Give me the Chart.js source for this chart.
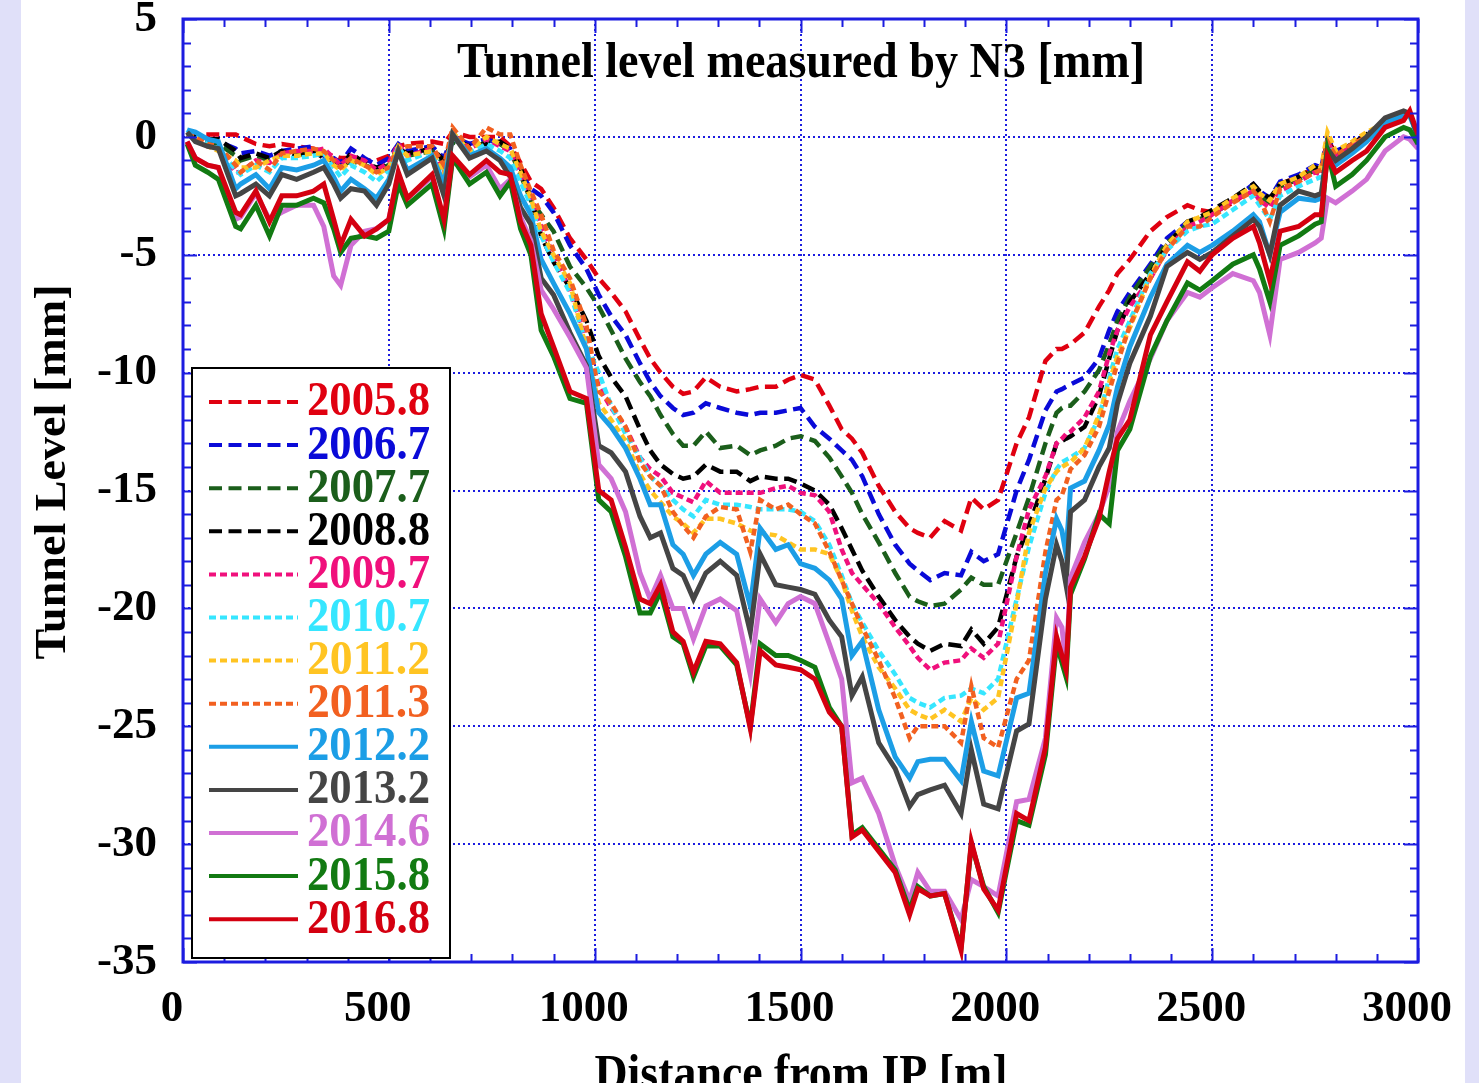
<!DOCTYPE html>
<html><head><meta charset="utf-8">
<script src="https://cdn.jsdelivr.net/npm/chart.js@4.4.1/dist/chart.umd.min.js"></script>
<style>
html,body{margin:0;padding:0;background:#fff;}
canvas{display:block;}
</style></head><body>
<canvas id="c" width="1479" height="1083"></canvas>
<script>
// ---------------- DATA ----------------
const distance = [10,30,60,86,128,140,177,210,240,276,
 317,342,366,383,408,441,470,500,523,545,
 605,634,655,696,737,770,795,820,845,870,
 900,940,980,1010,1040,1075,1110,1135,1160,1190,
 1215,1240,1270,1305,1345,1378,1402,1440,1470,1500,
 1535,1570,1600,1625,1650,1690,1730,1765,1785,1815,
 1850,1890,1915,1945,1980,2025,2055,2095,2122,2135,
 2145,2156,2190,2225,2250,2270,2300,2350,2390,2440,
 2470,2500,2550,2600,2615,2640,2665,2710,2750,2765,
 2780,2800,2840,2875,2920,2965,2980,3000];

const s2005_8 = [0.2,0.1,0.1,0.1,0.1,0.0,-0.3,-0.4,-0.3,-0.4,
 -0.5,-0.7,-0.8,-0.9,-0.9,-1.0,-1.0,-0.8,-0.4,-0.3,
 -0.2,-0.3,0.2,0.0,0.0,0.0,-0.4,-1.1,-1.9,-2.2,
 -3.0,-4.3,-5.2,-6.0,-6.6,-7.4,-8.6,-9.4,-10.0,-10.6,
 -10.9,-10.8,-10.2,-10.6,-10.8,-10.7,-10.6,-10.6,-10.3,-10.1,
 -10.3,-11.4,-12.4,-12.8,-13.4,-14.8,-15.9,-16.6,-16.8,-17.0,
 -16.3,-16.7,-15.3,-15.8,-15.4,-13.0,-11.9,-9.5,-9.0,-9.0,
 -8.9,-8.8,-8.3,-7.2,-6.5,-5.8,-5.2,-4.0,-3.4,-2.9,
 -3.1,-3.2,-2.8,-2.2,-2.4,-2.7,-2.0,-1.7,-1.3,-1.4,
 -0.1,-0.7,-0.3,0.1,0.6,0.9,1.0,0.0];

const s2006_7 = [0.1,0.0,-0.1,-0.2,-0.5,-0.7,-0.6,-0.8,-0.6,-0.5,
 -0.4,-0.8,-0.9,-1.1,-0.5,-0.9,-1.2,-0.9,-0.3,-0.6,
 -0.4,-0.9,0.0,-0.3,-0.1,-0.3,-0.5,-1.5,-2.2,-2.5,
 -3.2,-4.6,-5.6,-6.7,-7.6,-8.4,-9.6,-10.4,-11.0,-11.5,
 -11.8,-11.7,-11.3,-11.5,-11.7,-11.8,-11.7,-11.7,-11.6,-11.5,
 -12.3,-12.8,-13.3,-13.7,-14.4,-16.0,-17.3,-18.1,-18.4,-18.8,
 -18.5,-18.6,-17.6,-18.0,-17.7,-15.0,-13.7,-11.6,-10.8,-10.7,
 -10.6,-10.5,-10.2,-9.4,-8.2,-7.4,-6.6,-5.4,-4.3,-3.6,
 -3.5,-3.3,-2.7,-2.0,-2.3,-2.6,-1.9,-1.6,-1.2,-1.3,
 -0.1,-0.6,-0.3,0.1,0.6,0.9,1.0,0.0];

const s2007_7 = [0.1,0.0,-0.2,-0.3,-0.8,-1.0,-0.8,-1.0,-0.7,-0.7,
 -0.6,-0.7,-1.1,-1.3,-1.0,-1.2,-1.4,-1.2,-0.4,-0.8,
 -0.6,-1.1,-0.2,-0.6,-0.2,-0.3,-0.6,-1.6,-2.7,-3.3,
 -4.0,-5.5,-6.4,-7.2,-8.2,-9.4,-10.4,-11.0,-11.8,-12.6,
 -13.1,-13.1,-12.5,-13.2,-13.1,-13.5,-13.3,-13.1,-12.8,-12.7,
 -12.9,-13.6,-14.4,-15.1,-16.0,-17.2,-18.5,-19.5,-19.7,-19.9,
 -19.8,-19.2,-18.7,-19.0,-19.0,-16.8,-15.3,-13.0,-11.7,-11.5,
 -11.4,-11.4,-10.8,-9.9,-8.8,-7.8,-6.8,-5.5,-4.5,-3.7,
 -3.5,-3.3,-2.7,-2.1,-2.5,-2.8,-2.1,-1.8,-1.4,-1.5,
 -0.2,-0.8,-0.4,0.0,0.6,0.9,1.0,0.0];

const s2008_8 = [0.1,0.0,-0.1,-0.1,-0.6,-0.9,-0.7,-0.9,-0.6,-0.8,
 -0.6,-0.9,-1.0,-1.3,-0.7,-1.1,-1.3,-1.2,-0.5,-0.7,
 -0.5,-1.0,-0.1,-0.4,-0.3,-0.2,-0.5,-1.3,-2.6,-4.2,
 -5.3,-6.4,-7.8,-9.3,-10.2,-11.0,-12.4,-13.3,-13.9,-14.3,
 -14.5,-14.4,-13.9,-14.2,-14.2,-14.6,-14.4,-14.5,-14.5,-14.7,
 -15.0,-15.6,-16.6,-17.5,-18.4,-19.5,-20.5,-21.2,-21.5,-21.8,
 -21.5,-21.6,-20.9,-21.5,-20.8,-17.8,-16.5,-14.5,-13.0,-12.9,
 -12.8,-12.7,-12.3,-11.0,-9.4,-8.2,-7.0,-5.8,-4.6,-3.6,
 -3.4,-3.1,-2.6,-2.0,-2.3,-2.6,-2.0,-1.7,-1.3,-1.4,
 -0.2,-0.7,-0.3,0.1,0.6,0.9,1.0,0.0];

const s2009_7 = [0.2,-0.1,-0.4,-0.5,-1.5,-1.5,-1.0,-1.1,-0.7,-0.6,
 -0.6,-0.5,-0.9,-1.2,-0.8,-1.0,-1.4,-1.1,-0.3,-0.8,
 -0.5,-1.5,0.1,-0.5,-0.1,-0.4,-0.6,-1.6,-2.5,-3.8,
 -5.0,-6.5,-8.6,-10.6,-11.5,-12.3,-13.6,-14.1,-14.4,-15.1,
 -15.3,-15.5,-14.6,-15.1,-15.1,-15.1,-15.1,-14.9,-14.8,-15.1,
 -15.2,-15.9,-17.5,-18.5,-19.0,-19.8,-20.8,-21.6,-22.1,-22.6,
 -22.3,-22.2,-21.7,-22.1,-21.5,-17.8,-15.8,-14.4,-13.0,-12.8,
 -12.6,-12.5,-11.9,-10.8,-9.2,-8.2,-7.2,-6.0,-4.8,-3.8,
 -3.6,-3.3,-2.7,-2.3,-2.7,-3.0,-2.3,-1.9,-1.5,-1.6,
 -0.2,-0.8,-0.4,0.0,0.6,0.9,1.0,0.0];

const s2010_7 = [0.3,0.0,-0.3,-0.5,-1.4,-1.6,-1.2,-1.5,-0.9,-0.9,
 -0.8,-0.7,-1.3,-1.7,-1.2,-1.5,-1.9,-1.4,-0.4,-1.0,
 -0.6,-1.7,0.0,-0.7,-0.3,-0.6,-0.9,-1.9,-2.9,-4.2,
 -5.3,-6.6,-8.8,-10.0,-11.4,-12.6,-13.6,-14.4,-14.8,-15.4,
 -15.8,-16.1,-15.4,-15.6,-15.6,-15.7,-15.8,-15.8,-15.8,-15.9,
 -16.3,-17.3,-18.6,-19.8,-20.6,-21.8,-22.8,-23.8,-24.0,-24.2,
 -23.8,-23.7,-23.4,-23.6,-23.0,-19.6,-17.4,-15.1,-14.1,-13.8,
 -13.7,-13.6,-13.2,-11.9,-10.2,-9.0,-7.8,-5.8,-4.8,-4.0,
 -3.8,-3.7,-3.1,-2.5,-2.9,-3.5,-2.5,-2.1,-1.8,-1.7,
 -0.3,-1.0,-0.6,-0.2,0.5,0.8,0.9,0.0];

const s2011_2 = [0.2,0.0,-0.4,-0.6,-1.0,-1.3,-1.3,-1.0,-0.8,-0.8,
 -0.7,-0.7,-1.2,-1.4,-1.0,-1.2,-1.6,-1.3,-0.4,-0.8,
 -0.6,-1.6,0.2,-0.6,0.0,-0.3,-0.5,-1.5,-2.6,-4.0,
 -5.0,-6.2,-9.0,-11.3,-12.0,-12.9,-14.3,-15.0,-15.5,-16.1,
 -16.4,-16.8,-16.2,-16.2,-16.4,-16.7,-16.8,-16.9,-17.2,-17.5,
 -17.5,-17.7,-18.8,-20.1,-21.2,-22.5,-23.4,-24.3,-24.5,-24.7,
 -24.3,-24.8,-23.8,-24.3,-23.8,-19.8,-16.8,-14.9,-14.2,-14.0,
 -13.9,-13.8,-13.2,-11.8,-10.4,-9.3,-8.1,-5.9,-4.6,-3.6,
 -3.4,-3.2,-2.6,-2.1,-2.4,-2.7,-2.0,-1.7,-1.2,-1.3,
 0.2,-0.6,-0.2,0.2,0.6,0.9,1.0,0.0];

const s2011_3 = [0.1,0.0,-0.3,-0.4,-1.2,-1.5,-1.0,-1.4,-0.7,-0.6,
 -0.5,-0.6,-1.0,-1.3,-0.9,-1.2,-1.5,-1.3,-0.5,-0.4,
 -0.4,-1.2,0.4,-0.5,0.4,0.1,0.1,-1.2,-2.3,-3.3,
 -4.8,-6.0,-8.0,-10.8,-11.3,-12.3,-13.8,-14.4,-14.8,-15.9,
 -16.5,-17.0,-16.1,-15.7,-15.8,-17.6,-15.4,-15.8,-15.6,-16.0,
 -16.4,-17.6,-18.8,-19.8,-20.8,-22.2,-23.8,-25.5,-25.0,-25.0,
 -25.0,-25.7,-23.3,-25.5,-25.9,-23.0,-22.2,-17.6,-15.4,-15.2,
 -14.7,-14.1,-13.5,-12.3,-10.8,-9.6,-8.0,-6.0,-4.8,-3.8,
 -3.8,-3.4,-2.8,-2.3,-2.6,-3.6,-2.2,-1.9,-1.5,-1.4,
 -0.2,-0.8,-0.3,0.0,0.6,0.9,1.0,0.0];

const s2012_2 = [0.3,0.2,-0.1,-0.2,-2.2,-2.0,-1.6,-2.2,-1.3,-1.4,
 -1.2,-1.0,-1.7,-2.3,-1.8,-2.2,-2.6,-1.8,-0.6,-1.4,
 -0.8,-2.0,0.1,-0.8,-0.5,-0.9,-1.3,-2.5,-3.3,-5.2,
 -6.2,-7.5,-9.0,-11.7,-12.3,-13.2,-14.5,-15.6,-15.6,-17.3,
 -17.7,-18.6,-17.7,-17.2,-17.7,-19.9,-16.6,-17.5,-17.3,-18.1,
 -18.3,-18.8,-19.6,-22.0,-21.4,-24.3,-26.3,-27.2,-26.5,-26.4,
 -26.4,-27.3,-24.8,-26.9,-27.1,-23.8,-23.6,-18.5,-16.2,-16.7,
 -17.7,-14.9,-14.6,-13.3,-12.2,-10.6,-8.9,-6.8,-5.4,-4.6,
 -4.9,-4.6,-4.0,-3.3,-3.6,-5.0,-3.2,-2.6,-2.7,-2.6,
 -0.6,-1.2,-0.7,-0.2,0.6,0.9,0.9,0.0];

const s2013_2 = [0.2,-0.2,-0.4,-0.5,-2.5,-2.4,-2.0,-2.5,-1.6,-1.8,
 -1.5,-1.3,-2.0,-2.6,-2.2,-2.3,-2.9,-2.0,-0.6,-1.6,
 -0.9,-2.5,0.1,-0.9,-0.6,-1.0,-1.7,-3.0,-3.7,-6.0,
 -6.7,-8.3,-9.7,-13.1,-13.4,-14.2,-16.1,-17.0,-16.8,-18.3,
 -18.6,-19.6,-18.5,-18.0,-18.6,-21.0,-17.7,-19.0,-19.1,-19.2,
 -19.4,-20.5,-21.2,-23.7,-22.9,-25.7,-26.8,-28.4,-27.9,-27.7,
 -27.5,-28.7,-26.0,-28.3,-28.5,-25.2,-24.9,-19.6,-17.3,-18.0,
 -19.0,-15.9,-15.4,-14.0,-13.2,-11.3,-9.6,-7.6,-5.5,-4.9,
 -5.2,-4.9,-4.2,-3.5,-3.8,-5.0,-2.9,-2.3,-2.5,-2.4,
 -0.5,-1.0,-0.5,0.0,0.8,1.1,1.0,0.0];

const s2014_6 = [-0.2,-0.9,-1.2,-1.3,-3.5,-3.4,-2.4,-3.5,-3.2,-2.9,
 -2.9,-3.8,-5.9,-6.3,-4.6,-4.0,-3.9,-3.5,-1.6,-2.6,
 -1.7,-3.6,-0.9,-1.7,-1.2,-2.2,-1.8,-3.4,-4.4,-6.5,
 -7.3,-8.5,-9.8,-13.9,-14.5,-15.9,-18.5,-19.6,-18.6,-20.0,
 -20.0,-21.3,-19.9,-19.6,-20.1,-22.8,-19.6,-20.6,-19.8,-19.5,
 -19.8,-21.5,-23.0,-27.4,-27.2,-28.7,-30.9,-32.4,-31.2,-32.0,
 -32.0,-33.2,-31.5,-31.8,-32.2,-28.2,-28.1,-25.5,-20.4,-20.8,
 -22.4,-18.7,-17.2,-16.0,-14.8,-12.5,-11.2,-9.4,-7.8,-6.6,
 -6.8,-6.4,-5.8,-6.1,-6.6,-8.4,-5.2,-4.9,-4.5,-4.3,
 -2.6,-2.8,-2.3,-1.8,-0.6,0.0,-0.1,-0.5];

const s2015_8 = [-0.3,-1.2,-1.5,-1.8,-3.8,-3.9,-2.9,-4.2,-2.9,-2.9,
 -2.6,-2.8,-3.9,-4.9,-4.3,-4.2,-4.3,-4.0,-2.0,-2.9,
 -2.0,-3.9,-0.9,-2.0,-1.5,-2.5,-1.9,-3.9,-5.0,-8.2,
 -9.3,-11.1,-11.3,-15.4,-15.9,-17.8,-20.2,-20.2,-19.3,-21.2,
 -21.5,-22.9,-21.6,-21.6,-22.4,-25.0,-21.5,-22.0,-22.0,-22.2,
 -22.5,-24.2,-25.0,-29.6,-29.3,-30.2,-31.1,-32.8,-31.8,-32.2,
 -32.1,-34.4,-30.0,-31.8,-32.9,-29.0,-29.2,-26.2,-21.5,-22.3,
 -22.9,-19.4,-17.9,-16.0,-16.4,-13.3,-12.4,-9.3,-7.8,-6.2,
 -6.5,-6.1,-5.4,-5.0,-5.6,-7.0,-4.6,-4.2,-3.7,-3.6,
 -0.6,-2.1,-1.6,-1.0,0.0,0.4,0.3,-0.3];

const s2016_8 = [-0.2,-0.9,-1.2,-1.3,-3.2,-3.3,-2.3,-3.6,-2.5,-2.5,
 -2.3,-2.0,-3.5,-4.6,-3.5,-4.2,-3.9,-3.5,-1.5,-2.6,
 -1.6,-3.5,-0.8,-1.6,-1.0,-1.5,-1.6,-3.6,-4.6,-7.5,
 -8.9,-10.8,-11.1,-15.0,-15.4,-17.4,-19.6,-19.8,-19.0,-21.0,
 -21.4,-22.7,-21.4,-21.5,-22.3,-25.1,-21.8,-22.4,-22.5,-22.6,
 -23.0,-24.4,-25.0,-29.7,-29.4,-30.3,-31.2,-33.0,-31.9,-32.2,
 -32.1,-34.5,-29.9,-31.9,-32.8,-28.7,-29.0,-25.9,-21.2,-22.0,
 -22.6,-19.1,-17.8,-16.2,-14.2,-12.8,-12.0,-8.4,-7.0,-5.3,
 -5.7,-5.0,-4.3,-3.8,-4.5,-6.1,-4.0,-3.8,-3.3,-3.3,
 -0.8,-1.5,-1.0,-0.6,0.4,0.7,1.1,0.1];

const seriesLabels = ['2005.8','2006.7','2007.7','2008.8','2009.7','2010.7','2011.2','2011.3','2012.2','2013.2','2014.6','2015.8','2016.8'];
const seriesValues = [s2005_8,s2006_7,s2007_7,s2008_8,s2009_7,s2010_7,s2011_2,s2011_3,s2012_2,s2013_2,s2014_6,s2015_8,s2016_8];
const xTicks = [0,500,1000,1500,2000,2500,3000];
const yTicks = [5,0,-5,-10,-15,-20,-25,-30,-35];

// ---------------- STYLE ----------------
const DASH = [13,6.5], DOT = [7,4];
const seriesStyle = [
  {c:'#e00010', d:DASH}, {c:'#0a0ad8', d:DASH}, {c:'#1b5e1b', d:DASH}, {c:'#000000', d:DASH},
  {c:'#f0107c', d:DOT}, {c:'#36e6ff', d:DOT}, {c:'#ffc422', d:DOT}, {c:'#f26020', d:DOT},
  {c:'#1c9ee6', d:[]}, {c:'#454545', d:[]}, {c:'#d070d4', d:[]}, {c:'#127a12', d:[]}, {c:'#d40010', d:[]}
];
const SERIF = "'Liberation Serif','DejaVu Serif',serif";
const BLUE = '#1c1ce0';

const datasets = seriesLabels.map((lab, i) => ({
  label: lab,
  data: distance.map((x, k) => ({x: x, y: seriesValues[i][k]})),
  borderColor: seriesStyle[i].c,
  backgroundColor: seriesStyle[i].c,
  borderDash: seriesStyle[i].d,
  borderWidth: seriesStyle[i].d.length ? 4.5 : 5,
  pointRadius: 0,
  tension: 0,
  fill: false,
  order: seriesLabels.length - i
}));

function fittedText(ctx, text, x, y, size, targetW, align, rot) {
  ctx.save();
  ctx.font = 'bold ' + size + 'px ' + SERIF;
  const w = ctx.measureText(text).width;
  ctx.translate(x, y);
  if (rot) ctx.rotate(rot);
  const sx = targetW ? targetW / w : 1;
  ctx.scale(sx, 1);
  ctx.textAlign = align || 'center';
  ctx.fillText(text, 0, 0);
  ctx.restore();
}

const decor = {
  id: 'decor',
  beforeDraw(chart) {
    const ctx = chart.ctx;
    ctx.save();
    ctx.fillStyle = '#ffffff';
    ctx.fillRect(0, 0, chart.width, chart.height);
    ctx.fillStyle = '#e0e0f9';
    ctx.fillRect(0, 0, 21, chart.height);
    ctx.fillRect(1465, 0, chart.width - 1465, chart.height);
    ctx.restore();
  },
  afterDatasetsDraw(chart) {
    const ctx = chart.ctx, a = chart.chartArea, xs = chart.scales.x, ys = chart.scales.y;
    ctx.save();
    ctx.strokeStyle = BLUE;
    ctx.lineWidth = 2;
    ctx.beginPath();
    for (let v = xs.min; v <= xs.max; v += 100) {
      const p = Math.round(xs.getPixelForValue(v)) + 0.5;
      const L = (v % 500 === 0) ? 14 : 8;
      ctx.moveTo(p, a.bottom); ctx.lineTo(p, a.bottom - L);
      ctx.moveTo(p, a.top); ctx.lineTo(p, a.top + L);
    }
    for (let v = ys.min; v <= ys.max; v += 1) {
      const p = Math.round(ys.getPixelForValue(v)) + 0.5;
      const L = (v % 5 === 0) ? 14 : 8;
      ctx.moveTo(a.left, p); ctx.lineTo(a.left + L, p);
      ctx.moveTo(a.right, p); ctx.lineTo(a.right - L, p);
    }
    ctx.stroke();
    ctx.lineWidth = 3;
    ctx.strokeRect(a.left, a.top, a.right - a.left, a.bottom - a.top);

    // plot title
    ctx.fillStyle = '#000';
    ctx.textBaseline = 'alphabetic';
    fittedText(ctx, 'Tunnel level measured by N3 [mm]', 801, 77, 50, 688, 'center', 0);
    // axis titles
    fittedText(ctx, 'Distance from IP [m]', 801, 1089, 50, 413, 'center', 0);
    ctx.textBaseline = 'middle';
    fittedText(ctx, 'Tunnel Level [mm]', 54, 472, 44, 375, 'center', -Math.PI / 2);

    // legend box
    const bx = 192, by = 368, bw = 258, bh = 590;
    ctx.fillStyle = '#fff';
    ctx.fillRect(bx, by, bw, bh);
    ctx.strokeStyle = '#000';
    ctx.lineWidth = 2;
    ctx.strokeRect(bx, by, bw, bh);
    chart.data.datasets.forEach((ds, i) => {
      const yy = 402 + i * 43.1;
      ctx.save();
      ctx.strokeStyle = ds.borderColor;
      ctx.lineWidth = 4;
      ctx.setLineDash(ds.borderDash);
      ctx.beginPath();
      ctx.moveTo(209, yy); ctx.lineTo(298, yy);
      ctx.stroke();
      ctx.restore();
      ctx.fillStyle = ds.borderColor;
      ctx.textBaseline = 'middle';
      fittedText(ctx, ds.label, 307, yy + 1, 48, 123, 'left', 0);
    });
    ctx.restore();
  }
};

const tickFont = {family: SERIF, weight: 'bold', size: 45};
function zeroPad(s) { s.paddingTop = 0; s.paddingBottom = 0; s.paddingLeft = 0; s.paddingRight = 0; }

new Chart(document.getElementById('c'), {
  type: 'line',
  data: {datasets: datasets},
  options: {
    responsive: false,
    animation: false,
    events: [],
    layout: {padding: {left: 0, right: 61, top: 19, bottom: 0}},
    plugins: {legend: {display: false}, tooltip: {enabled: false}, title: {display: false}},
    scales: {
      x: {
        type: 'linear', min: 0, max: 3000,
        afterFit(s) { s.height = 121; zeroPad(s); },
        afterBuildTicks(s) { s.ticks = xTicks.map(v => ({value: v})); },
        ticks: {color: '#000', font: tickFont, padding: 20, maxRotation: 0, autoSkip: false,
                labelOffset: -11, callback: v => String(v)},
        grid: {color: BLUE, lineWidth: 2, drawTicks: false},
        border: {display: false, dash: [2, 3]}
      },
      y: {
        type: 'linear', min: -35, max: 5,
        afterFit(s) { s.width = 183; zeroPad(s); },
        afterBuildTicks(s) { s.ticks = yTicks.map(v => ({value: v})); },
        ticks: {color: '#000', font: tickFont, padding: 26, autoSkip: false,
                callback: v => String(v)},
        grid: {color: BLUE, lineWidth: 2, drawTicks: false},
        border: {display: false, dash: [2, 3]}
      }
    }
  },
  plugins: [decor]
});
</script>
</body></html>
